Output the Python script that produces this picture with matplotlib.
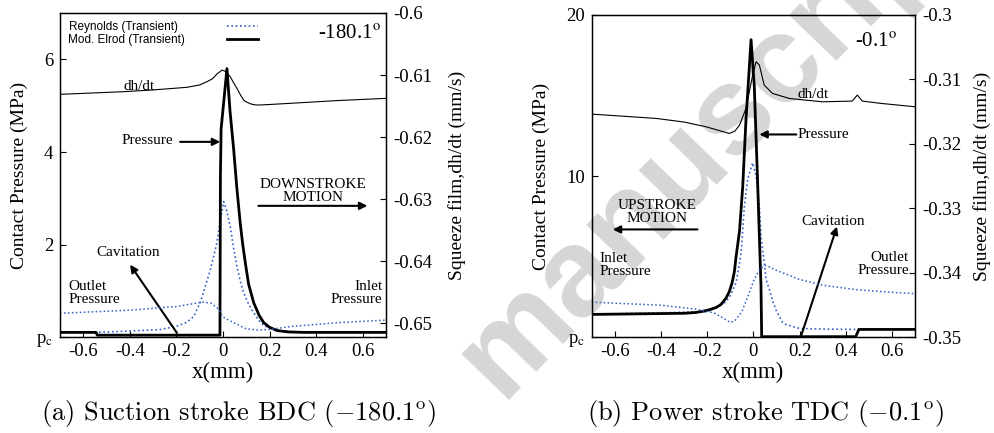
import matplotlib
matplotlib.use('Agg')
import matplotlib.pyplot as plt

plt.rcParams['font.family'] = ['Liberation Serif', 'DejaVu Serif']
plt.rcParams['mathtext.fontset'] = 'stix'
plt.rcParams['axes.unicode_minus'] = False

# ---------------- datos (a) Suction stroke BDC -180.1 ----------------
xa_elrod = [-0.7, -0.545, -0.54, -0.013, -0.011, -0.008, 0.017, 0.03, 0.046, 0.06, 0.074, 0.085,
            0.096, 0.11, 0.132, 0.155, 0.175, 0.2, 0.232, 0.28, 0.345, 0.7]
pa_elrod = [0.11, 0.11, 0.05, 0.05, 3.5, 4.5, 5.8, 4.9, 4.05, 3.2, 2.47, 2.0,
            1.61, 1.15, 0.75, 0.48, 0.32, 0.22, 0.15, 0.12, 0.11, 0.11]
xa_rey = [-0.7, -0.54, -0.4, -0.27, -0.2, -0.155, -0.126, -0.098, -0.076, -0.055, -0.04, -0.026,
          -0.012, 0.003, 0.015, 0.031, 0.045, 0.06, 0.075, 0.089, 0.11, 0.132, 0.155, 0.175,
          0.2, 0.25, 0.35, 0.7]
pa_rey = [0.11, 0.11, 0.14, 0.17, 0.24, 0.33, 0.45, 0.75, 1.1, 1.45, 1.75, 2.05,
          2.5, 2.93, 2.75, 2.4, 1.95, 1.53, 1.2, 0.96, 0.72, 0.53, 0.36, 0.26,
          0.2, 0.14, 0.11, 0.11]
xa_dh_elrod = [-0.7, -0.43, -0.3, -0.155, -0.1, -0.069, -0.045, -0.026, -0.004, 0.003, 0.012, 0.031,
               0.045, 0.06, 0.075, 0.089, 0.1, 0.117, 0.132, 0.15, 0.2, 0.33, 0.5, 0.7]
dha_elrod = [-0.61311, -0.61269, -0.61240, -0.61198, -0.61160, -0.61108, -0.61060, -0.60984, -0.6092,
             -0.60930, -0.60946, -0.61027, -0.61120, -0.61215, -0.61320, -0.61403, -0.61432, -0.61462,
             -0.61478, -0.61484, -0.61475, -0.61447, -0.61410, -0.61376]
xa_dh_rey = [-0.7, -0.4, -0.2, -0.12, -0.083, -0.05, -0.02, 0.0, 0.05, 0.1, 0.15, 0.2, 0.3, 0.5, 0.7]
dha_rey = [-0.6484, -0.6479, -0.6473, -0.6468, -0.6466, -0.6468, -0.6477, -0.6490, -0.6500, -0.6509,
           -0.6511, -0.6510, -0.6505, -0.6499, -0.6495]

# ---------------- datos (b) Power stroke TDC -0.1 ----------------
xb_elrod = [-0.7, -0.3, -0.25, -0.22, -0.19, -0.161, -0.14, -0.118, -0.104, -0.092, -0.082, -0.075,
            -0.06, -0.046, -0.032, -0.01, 0.004, 0.019, 0.033, 0.036, 0.443, 0.457, 0.7]
pb_elrod = [1.43, 1.50, 1.55, 1.62, 1.72, 1.86, 2.05, 2.45, 2.85, 3.4, 4.1, 5.0,
            6.6, 9.38, 13.5, 18.47, 15.6, 9.38, 3.18, 0.05, 0.05, 0.5, 0.5]
xb_rey = [-0.7, -0.2, -0.12, -0.1, -0.075, -0.06, -0.053, -0.039, -0.025, -0.003, 0.012, 0.026,
          0.033, 0.047, 0.055, 0.069, 0.083, 0.098, 0.126, 0.141, 0.2, 0.3, 0.443, 0.7]
pb_rey = [1.43, 1.6, 2.2, 2.6, 3.4, 4.6, 5.25, 8.14, 9.8, 10.83, 10.0, 8.14,
          6.28, 4.63, 3.6, 3.0, 2.3, 1.7, 0.95, 0.8, 0.56, 0.52, 0.5, 0.5]
xb_dh_elrod = [-0.7, -0.42, -0.3, -0.204, -0.15, -0.104, -0.08, -0.06, -0.032, -0.003, 0.012, 0.026,
               0.047, 0.083, 0.155, 0.299, 0.428, 0.45, 0.472, 0.55, 0.7]
dhb_elrod = [-0.31537, -0.31604, -0.31660, -0.31734, -0.31790, -0.31837, -0.31800, -0.31708, -0.31449,
             -0.30932, -0.30725, -0.30776, -0.31087, -0.31216, -0.31294, -0.31346, -0.31335, -0.31242,
             -0.31335, -0.31370, -0.31423]
xb_dh_rey = [-0.7, -0.4, -0.25, -0.17, -0.13, -0.1, -0.08, -0.05, -0.02, 0.0, 0.026, 0.045, 0.055,
             0.1, 0.2, 0.3, 0.45, 0.6, 0.7]
dhb_rey = [-0.34452, -0.34500, -0.34560, -0.34620, -0.34700, -0.34767, -0.34740, -0.34600, -0.34330,
           -0.34130, -0.33950, -0.33890, -0.33882, -0.33960, -0.34100, -0.34190, -0.34260, -0.34300,
           -0.34321]

xticks = [-0.6, -0.4, -0.2, 0, 0.2, 0.4, 0.6]
xticklabels = ['-0.6', '-0.4', '-0.2', '0', '0.2', '0.4', '0.6']
ya_ticks = [0, 2, 4, 6]
ya_labels = ['p$_\\mathrm{c}$', '2', '4', '6']
yb_ticks = [0, 10, 20]
yb_labels = ['p$_\\mathrm{c}$', '10', '20']
ra_ticks = [-0.65, -0.64, -0.63, -0.62, -0.61, -0.6]
ra_labels = ['-0.65', '-0.64', '-0.63', '-0.62', '-0.61', '-0.6']
rb_ticks = [-0.35, -0.34, -0.33, -0.32, -0.31, -0.3]
rb_labels = ['-0.35', '-0.34', '-0.33', '-0.32', '-0.31', '-0.3']

azul = '#2f5fc8'
punteado = (0, (1, 1.6))

fig = plt.figure(figsize=(9.95, 4.33), dpi=100)

# marca de agua
fig.text(0.7156, 0.688, 'manuscript', fontsize=90, fontweight='bold', family='Liberation Sans',
         color='#d6d6d6', rotation=46, rotation_mode='anchor', ha='center', va='center', zorder=-1)


def panel(pos, xe, pe, xr, pr, xde, de, xdr, dr, ylim, yt, ytl, rlim, rt, rtl):
    ax = fig.add_axes(pos)
    ax.patch.set_alpha(0)
    axr = ax.twinx()
    axr.patch.set_alpha(0)
    l1, = ax.plot(xr, pr, color=azul, lw=1.2, ls=punteado)
    l2, = ax.plot(xe, pe, color='k', lw=2.0)
    axr.plot(xdr, dr, color=azul, lw=1.1, ls=punteado)
    axr.plot(xde, de, color='k', lw=0.8)
    ax.set_xlim(-0.7, 0.7)
    ax.set_ylim(*ylim)
    axr.set_ylim(*rlim)
    ax.set_xticks(xticks)
    ax.set_xticklabels(xticklabels)
    ax.set_yticks(yt)
    ax.set_yticklabels(ytl)
    axr.set_yticks(rt)
    axr.set_yticklabels(rtl)
    ax.tick_params(direction='in', length=4, labelsize=13.5, pad=5, top=False, right=False)
    axr.tick_params(direction='in', length=4, labelsize=13.5, pad=5)
    ax.tick_params(axis='x', pad=4)
    for s in ax.spines.values():
        s.set_linewidth(1.0)
    ax.set_xlabel('x(mm)', fontsize=16.5)
    ax.set_ylabel('Contact Pressure (MPa)', fontsize=14)
    axr.set_ylabel('Squeeze film,dh/dt (mm/s)', fontsize=14)
    ax.xaxis.set_label_coords(0.5, -0.076)
    return ax, axr, l1, l2


ax1, ax1r, r1, e1 = panel([0.0603, 0.2206, 0.3276, 0.7494], xa_elrod, pa_elrod, xa_rey, pa_rey,
                          xa_dh_elrod, dha_elrod, xa_dh_rey, dha_rey, (0, 7), ya_ticks, ya_labels,
                          (-0.6523, -0.6), ra_ticks, ra_labels)
ax1.yaxis.set_label_coords(-0.098, 0.5)
ax1r.yaxis.set_label_coords(1.19, 0.5)

ax2, ax2r, r2, e2 = panel([0.5947, 0.2206, 0.3249, 0.7448], xb_elrod, pb_elrod, xb_rey, pb_rey,
                          xb_dh_elrod, dhb_elrod, xb_dh_rey, dhb_rey, (0, 20), yb_ticks, yb_labels,
                          (-0.35, -0.3), rb_ticks, rb_labels)
ax2.yaxis.set_label_coords(-0.129, 0.5)
ax2r.yaxis.set_label_coords(1.179, 0.5)

ax1.legend([r1, e1], ['Reynolds (Transient)  ', 'Mod. Elrod (Transient)'], loc='upper left',
           bbox_to_anchor=(0.0245, 0.975), frameon=False, markerfirst=False, handlelength=2.6,
           handletextpad=3.6, labelspacing=0.1, borderpad=0, borderaxespad=0,
           prop={'family': 'Liberation Sans', 'size': 8.5})

flecha = dict(arrowstyle='-|>', color='k', lw=1.5, mutation_scale=11, shrinkA=0, shrinkB=0)
fs = 11

# anotaciones (a)
ax1.text(0.677, 6.53, '-180.1$^\\mathrm{o}$', fontsize=15, ha='right', va='center')
ax1.text(-0.36, 5.41, 'dh/dt', fontsize=fs, ha='center', va='center')
ax1.text(-0.326, 4.24, 'Pressure', fontsize=fs, ha='center', va='center')
ax1.annotate('', xy=(-0.012, 4.22), xytext=(-0.184, 4.22), arrowprops=flecha)
ax1.text(0.388, 3.16, 'DOWNSTROKE\nMOTION', fontsize=fs, ha='center', va='center', linespacing=1.0)
ax1.annotate('', xy=(0.62, 2.84), xytext=(0.152, 2.84), arrowprops=flecha)
ax1.text(-0.407, 1.83, 'Cavitation', fontsize=fs, ha='center', va='center')
ax1.annotate('', xy=(-0.399, 1.57), xytext=(-0.198, 0.10), arrowprops=flecha)
ax1.text(-0.665, 0.96, 'Outlet\nPressure', fontsize=fs, ha='left', va='center', linespacing=0.95)
ax1.text(0.684, 0.96, 'Inlet\nPressure', fontsize=fs, ha='right', va='center', linespacing=0.95,
         multialignment='right')

# anotaciones (b)
ax2.text(0.622, 18.29, '-0.1$^\\mathrm{o}$', fontsize=15, ha='right', va='center')
ax2.text(0.259, 15.07, 'dh/dt', fontsize=fs, ha='center', va='center')
ax2.text(0.19, 12.59, 'Pressure', fontsize=fs, ha='left', va='center')
ax2.annotate('', xy=(0.026, 12.59), xytext=(0.186, 12.59), arrowprops=flecha)
ax2.text(-0.416, 7.78, 'UPSTROKE\nMOTION', fontsize=fs, ha='center', va='center', linespacing=1.0)
ax2.annotate('', xy=(-0.609, 6.70), xytext=(-0.242, 6.70), arrowprops=flecha)
ax2.text(0.345, 7.19, 'Cavitation', fontsize=fs, ha='center', va='center')
ax2.annotate('', xy=(0.362, 6.88), xytext=(0.206, 0.06), arrowprops=flecha)
ax2.text(-0.665, 4.49, 'Inlet\nPressure', fontsize=fs, ha='left', va='center', linespacing=0.95)
ax2.text(0.673, 4.56, 'Outlet\nPressure', fontsize=fs, ha='right', va='center', linespacing=0.95,
         multialignment='right')

# subtitulos
fig.text(0.240, 0.046, '(a) Suction stroke BDC ($-180.1^\\mathrm{o}$)', fontsize=19, family='cmr10',
         math_fontfamily='cm', ha='center', va='center')
fig.text(0.769, 0.046, '(b) Power stroke TDC ($-0.1^\\mathrm{o}$)', fontsize=19, family='cmr10',
         math_fontfamily='cm', ha='center', va='center')

plt.savefig('out.png', dpi=100)
